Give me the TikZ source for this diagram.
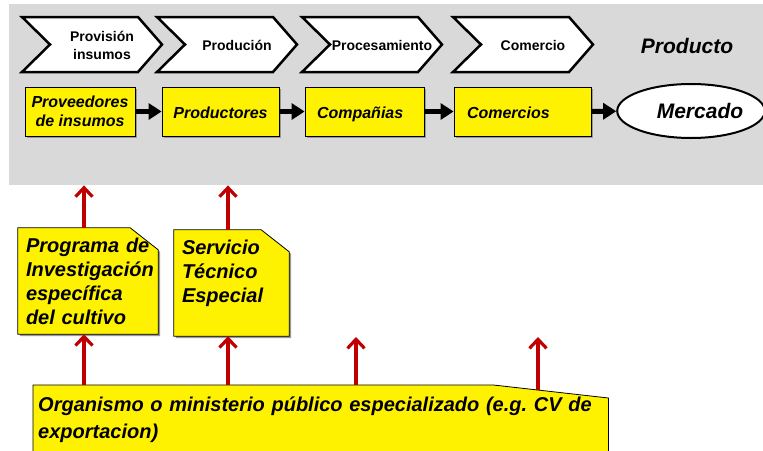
\documentclass[tikz,border=0pt]{standalone}
\usepackage{fontspec}
\setmainfont{Liberation Sans}
\frenchspacing
\usetikzlibrary{arrows.meta,shapes.geometric,shadows,backgrounds,positioning}

\definecolor{gris}{HTML}{D9D9D9}
\definecolor{rojo}{HTML}{C00000}

\tikzset{
  panel/.style={fill=gris, draw=none, inner sep=0pt},
  chevron/.style={draw=black, line width=2.5pt, fill=white, line join=miter},
  etapa/.style={font=\bfseries\fontsize{14}{18}\selectfont, align=center, inner sep=0pt},
  actor/.style={draw=black, line width=0.8pt, fill=yellow, minimum height=49pt, inner sep=0pt,
    font=\bfseries\itshape\fontsize{16}{19}\selectfont, align=center,
    drop shadow={shadow xshift=2pt, shadow yshift=-2pt, fill=black!40, opacity=1}},
  unalinea/.style={text height=18pt, text depth=3.5pt},
  flujo/.style={line width=5pt, -{Triangle[length=13pt,width=16pt]}},
  apoyo/.style={draw=rojo, line width=3.2pt, -{Straight Barb[length=9pt,width=17pt]}},
  nota/.style={draw=none, inner ysep=0pt, minimum height=106pt, align=left,
    font=\bfseries\itshape\fontsize{20}{24}\selectfont},
  hojafill/.style={draw=black, line width=0.8pt, fill=yellow, line join=miter}
}

% contorno de hoja con esquina doblada
\newcommand\hoja[1]{%
  \fill[black!40] ([shift={(2pt,-2pt)}]#1.north west) -- ([shift={(-26pt,-2pt)}]#1.north east)
    -- ([shift={(2pt,-24pt)}]#1.north east) -- ([shift={(2pt,-2pt)}]#1.south east)
    -- ([shift={(2pt,-2pt)}]#1.south west) -- cycle;
  \draw[hojafill] (#1.north west) -- ([xshift=-28pt]#1.north east) -- ([yshift=-22pt]#1.north east)
    -- (#1.south east) -- (#1.south west) -- cycle;}

\begin{document}
\begin{tikzpicture}[x=1pt,y=-1pt]
\useasboundingbox (0,0) rectangle (763,450);

\node[panel, minimum width=754pt, minimum height=181pt, anchor=north west] (cadena) at (9,4) {};

% etapas de la cadena
\foreach \x/\nombre/\texto in {22/provision/{Provisión\\insumos}, 157/produccion/Produción,
    302/procesamiento/Procesamiento, 453/comercio/Comercio} {
  \draw[chevron] (\x,17) -- (\x+116,17) -- (\x+140,44.5) -- (\x+116,72) -- (\x,72) -- (\x+28,44.5) -- cycle;
  \node[etapa] (\nombre) at (\x+80,45) {\texto};
}
\node[font=\bfseries\itshape\fontsize{21}{24}\selectfont] (producto) at (687,46) {Producto};

% actores
\node[actor, minimum width=110pt] (proveedores) at (80,111.5) {Proveedores\\de insumos};
\node[actor, unalinea, minimum width=117pt] (productores) at (220.5,111.5) {Productores};
\node[actor, unalinea, minimum width=119pt] (companias) at (364.5,111.5) {\makebox[95pt][l]{Compañias}};
\node[actor, unalinea, minimum width=137pt] (comercios) at (522.5,111.5) {\makebox[111pt][l]{Comercios}};
\node[ellipse, draw=black, line width=2pt, fill=white, minimum width=138pt, minimum height=54pt,
  inner sep=0pt, font=\bfseries\itshape\fontsize{21}{24}\selectfont] (mercado) at (691,111) {\hspace*{18pt}Mercado};

\draw[flujo] (proveedores) -- (productores);
\draw[flujo] (productores) -- (companias);
\draw[flujo] (companias) -- (comercios);
\draw[flujo] (comercios) -- (mercado);

% apoyo
\node[nota, text width=124pt, inner xsep=8pt] (programa) at (88,281)
  {Programa de\\Investigación\\específica\\del cultivo};
\node[nota, text width=99pt, inner xsep=8pt] (servicio) at (231.5,283)
  {Servicio\\Técnico\\Especial\\\mbox{}};
\node[nota, anchor=north west, minimum width=575pt, minimum height=70pt, text width=565pt,
  inner xsep=5pt, font=\bfseries\itshape\fontsize{20}{27}\selectfont] (organismo) at (33,385)
  {Organismo o ministerio público especializado (e.g. CV de\\exportacion)};

\begin{scope}[on background layer]
  \hoja{programa}
  \hoja{servicio}
  \draw[hojafill] (organismo.north west) -- ([xshift=-115pt]organismo.north east)
    -- ([yshift=-13pt]organismo.north east) -- (organismo.south east) -- (organismo.south west) -- cycle;
\end{scope}

\coordinate (c1) at (84,0);
\coordinate (c2) at (228,0);
\coordinate (t3) at (356,337);
\coordinate (s4) at (538,390);
\coordinate (t4) at (538,337);

\draw[apoyo] (programa.north -| c1) -- (cadena.south -| c1);
\draw[apoyo] (servicio.north -| c2) -- (cadena.south -| c2);
\draw[apoyo] (organismo.north -| c1) -- (programa.south -| c1);
\draw[apoyo] (organismo.north -| c2) -- (servicio.south -| c2);
\draw[apoyo] (organismo.north -| t3) -- (t3);
\draw[apoyo] (s4) -- (t4);
\end{tikzpicture}
\end{document}
